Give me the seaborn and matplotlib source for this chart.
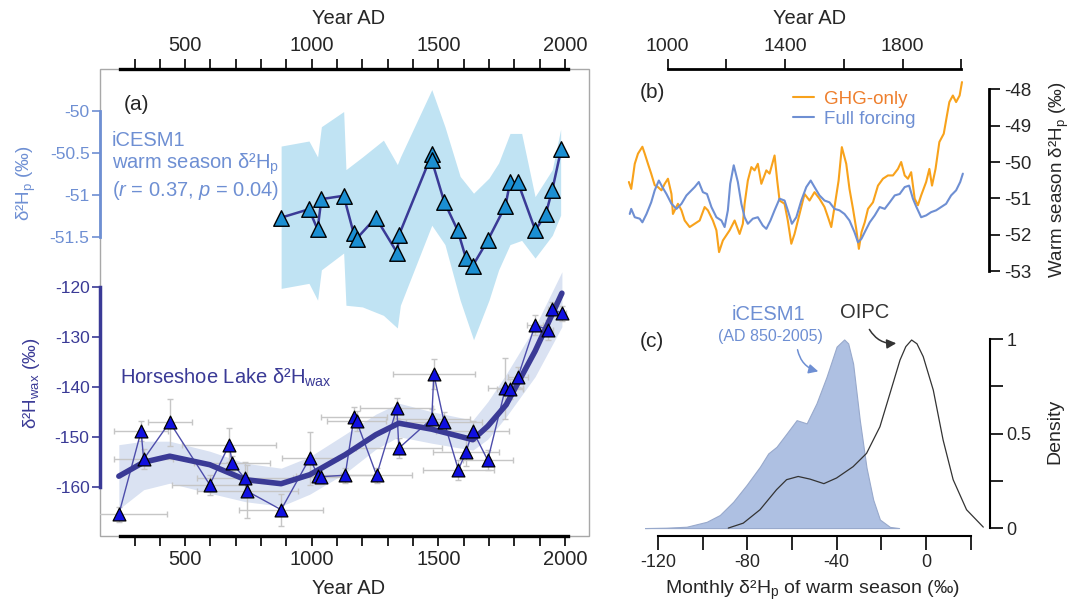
"""
Three-panel figure: Horseshoe Lake leaf-wax d2H vs iCESM1 warm-season d2Hp (a),
GHG-only vs full-forcing runs (b), and monthly d2Hp density, iCESM1 vs OIPC (c).
"""

import matplotlib
matplotlib.use("Agg")
import matplotlib.pyplot as plt
from matplotlib.patches import Rectangle
from matplotlib.ticker import FixedLocator
import seaborn as sns

# ---- panel (a), upper: iCESM1 warm-season d2Hp ----
sim_year = [879, 989, 1023, 1038, 1126, 1165, 1177, 1253, 1338, 1344, 1474, 1474,
            1523, 1576, 1609, 1636, 1695, 1765, 1783, 1814, 1883, 1924, 1950, 1985]
sim_d2hp = [-51.27, -51.17, -51.41, -51.05, -51.01, -51.45, -51.52, -51.27, -51.69, -51.48,
            -50.52, -50.59, -51.08, -51.42, -51.75, -51.84, -51.54, -51.13, -50.85, -50.85,
            -51.42, -51.23, -50.94, -50.46]
sim_band_year = [879, 989, 1023, 1038, 1126, 1135, 1200, 1283, 1338, 1350, 1474,
                 1526, 1586, 1639, 1700, 1738, 1783, 1829, 1882, 1950, 1983]
sim_band_hi = [-50.42, -50.36, -50.55, -50.19, -50.01, -50.70, -50.55, -50.35, -50.64, -50.55,
               -49.75, -50.19, -50.78, -50.98, -50.80, -50.62, -50.27, -50.27, -51.02, -50.70, -50.22]
sim_band_lo = [-52.11, -52.05, -52.25, -51.89, -51.69, -52.31, -52.33, -52.43, -52.58, -52.31,
               -51.36, -51.59, -52.25, -52.72, -52.25, -51.89, -51.59, -51.54, -51.75, -51.48, -51.24]

# ---- panel (a), lower: Horseshoe Lake d2Hwax ----
wax_year = [238, 326, 336, 439, 597, 674, 686, 735, 745, 879, 992, 1026, 1038, 1132, 1167,
            1177, 1256, 1336, 1344, 1474, 1482, 1523, 1579, 1609, 1636, 1695, 1765, 1783,
            1814, 1882, 1932, 1950, 1988]
wax_d2h = [-165.5, -148.9, -154.5, -147.1, -159.6, -151.6, -155.3, -158.3, -160.9, -164.6,
           -154.3, -157.9, -158.0, -157.7, -146.1, -146.9, -157.7, -144.3, -152.3, -146.4,
           -137.5, -147.1, -156.6, -153.1, -148.8, -154.7, -140.3, -140.4, -138.1, -127.7,
           -128.6, -124.5, -125.3]
wax_age_err = [190, 106, 117, 86, 150, 185, 150, 190, 200, 166, 110, 90, 90, 120, 129, 118,
               140, 144, 170, 150, 162, 150, 140, 129, 144, 98, 68, 50, 40, 30, 20, 15, 15]
wax_d2h_err = [1.5, 2, 2, 4.7, 2, 3.4, 1.5, 3.3, 5.3, 3.2, 5.3, 1.5, 1.5, 1.5, 2, 2, 1.5, 2,
               2, 2, 3, 2, 2, 2.7, 2, 2, 6.1, 2, 2, 2, 2, 1.5, 1.5]
fit_year = [238, 336, 439, 597, 738, 879, 992, 1132, 1253, 1344, 1474, 1636, 1695, 1768, 1882, 1988]
fit_d2h = [-157.9, -155.1, -153.9, -155.6, -158.6, -159.4, -157.6, -153.6, -149.6, -147.3,
           -148.5, -150.6, -147.9, -143.6, -132.9, -121.3]
fit_hi = [-151.6, -150.9, -150.9, -152.9, -155.3, -156.3, -154.0, -149.5, -145.5, -143.3,
          -145.0, -146.7, -143.0, -137.5, -128.0, -117.0]
fit_lo = [-164.5, -160.6, -159.3, -161.3, -163.0, -163.9, -161.5, -157.3, -152.5, -150.0,
          -151.3, -152.7, -150.5, -146.0, -138.0, -128.0]

# ---- panel (b): GHG-only vs full forcing ----
ghg_year = [868, 876, 888, 899, 914, 922, 933, 944, 956, 967, 979, 990, 1001, 1013, 1018,
            1035, 1047, 1058, 1075, 1092, 1109, 1126, 1137, 1154, 1166, 1175, 1188, 1211,
            1228, 1245, 1256, 1262, 1273, 1285, 1296, 1307, 1319, 1336, 1347, 1364, 1373,
            1381, 1398, 1409, 1421, 1432, 1449, 1466, 1483, 1500, 1517, 1534, 1546, 1557,
            1568, 1582, 1593, 1608, 1619, 1631, 1642, 1651, 1660, 1671, 1682, 1699, 1716,
            1733, 1750, 1767, 1784, 1795, 1807, 1818, 1829, 1841, 1852, 1863, 1880, 1891,
            1900, 1912, 1925, 1940, 1951, 1959, 1971, 1982, 1994, 2002]
ghg_d2hp = [-50.55, -50.74, -50.05, -49.77, -49.58, -49.77, -50.05, -50.32, -50.64, -50.69,
            -50.78, -50.60, -50.46, -50.88, -51.43, -51.15, -51.33, -51.61, -51.79, -51.70,
            -51.61, -51.24, -51.33, -51.61, -51.88, -52.48, -52.16, -51.88, -51.61, -51.98,
            -51.70, -51.15, -50.51, -50.14, -50.23, -50.05, -50.60, -50.23, -50.32, -49.82,
            -50.51, -51.06, -51.15, -51.61, -52.25, -51.98, -51.43, -50.88, -51.06, -50.83,
            -51.01, -51.24, -51.52, -51.79, -51.24, -50.51, -49.59, -50.05, -50.74, -51.29,
            -51.84, -52.39, -51.93, -51.66, -51.29, -51.11, -50.65, -50.46, -50.37, -50.37,
            -50.19, -50.00, -50.37, -50.46, -50.28, -51.01, -51.19, -50.92, -50.55, -50.19,
            -50.65, -50.19, -49.45, -49.22, -48.71, -48.35, -48.17, -48.35, -48.17, -47.80]
full_year = [871, 876, 888, 905, 914, 928, 944, 956, 970, 982, 996, 1013, 1030, 1047, 1064,
             1081, 1092, 1106, 1120, 1134, 1149, 1166, 1183, 1194, 1205, 1213, 1225, 1239,
             1251, 1262, 1273, 1290, 1307, 1324, 1336, 1350, 1364, 1381, 1398, 1409, 1423,
             1438, 1455, 1472, 1487, 1500, 1517, 1534, 1551, 1568, 1585, 1602, 1619, 1636,
             1648, 1660, 1671, 1688, 1705, 1722, 1739, 1756, 1773, 1790, 1807, 1822, 1835,
             1847, 1863, 1880, 1897, 1914, 1931, 1948, 1965, 1982, 1996, 2005]
full_d2hp = [-51.43, -51.29, -51.52, -51.56, -51.66, -51.43, -51.11, -50.78, -50.51, -50.69,
             -50.88, -51.15, -51.29, -51.15, -50.92, -50.78, -50.69, -50.55, -50.83, -50.88,
             -51.24, -51.52, -51.61, -51.79, -51.33, -50.60, -50.09, -50.55, -51.15, -51.52,
             -51.70, -51.56, -51.52, -51.75, -51.84, -51.61, -51.33, -51.01, -51.06, -51.33,
             -51.70, -51.52, -51.06, -50.69, -50.51, -50.69, -50.92, -51.06, -51.11, -51.29,
             -51.33, -51.43, -51.61, -51.93, -52.21, -52.11, -51.93, -51.66, -51.47, -51.24,
             -51.29, -51.11, -50.92, -50.88, -50.69, -50.65, -51.01, -51.24, -51.52, -51.47,
             -51.38, -51.33, -51.24, -51.15, -50.92, -50.78, -50.55, -50.32]

# ---- panel (c): monthly warm-season d2Hp density ----
cesm_x = [-125.9, -116.2, -107.2, -98.2, -92.3, -86.3, -80.3, -74.3, -70.6, -66.9, -62.4,
          -57.9, -53.4, -49.0, -44.5, -40.0, -36.6, -34.8, -32.6, -29.6, -26.6, -23.6,
          -20.6, -16.1, -12.0]
cesm_density = [0, 0.002, 0.007, 0.033, 0.069, 0.139, 0.228, 0.325, 0.395, 0.43, 0.50,
                0.571, 0.554, 0.66, 0.80, 0.96, 0.998, 0.977, 0.87, 0.57, 0.32, 0.15,
                0.045, 0.006, 0]
oipc_x = [-88.5, -81.8, -74.3, -66.9, -62.4, -57.2, -51.9, -45.7, -40.0, -32.6, -26.6,
          -20.6, -16.1, -11.6, -9.0, -6.4, -4.0, -1.2, 3.3, 7.7, 12.2, 18.2, 25.7]
oipc_density = [0, 0.026, 0.097, 0.203, 0.256, 0.273, 0.259, 0.235, 0.265, 0.325, 0.395,
                0.536, 0.712, 0.889, 0.96, 0.995, 0.975, 0.907, 0.73, 0.466, 0.256, 0.097, 0.005]

# colours
LIGHT = '#6e8fd3'
DARK = '#3a3a96'
SIM_BAND = '#c0e3f3'
SIM_TRI = '#1b8fd2'
WAX_TRI = '#1010e0'
WAX_BAND = '#dae2f2'
ERR = '#c6c6c6'
ORANGE = '#f8a21b'
CESM_FILL = '#aec0e2'

W, H = 1073, 602

sns.set_theme(style='white')
plt.rcParams['font.family'] = ['Liberation Sans', 'DejaVu Sans']
plt.rcParams['mathtext.fontset'] = 'custom'
plt.rcParams['mathtext.rm'] = 'Liberation Sans'
plt.rcParams['mathtext.it'] = 'Liberation Sans:italic'
plt.rcParams['axes.unicode_minus'] = False

D2HP = 'δ²H$_\\mathregular{p}$'
D2HWAX = 'δ²H$_\\mathregular{wax}$'


def box(left, top, right, bottom):
    """pixel box -> figure fraction rect"""
    return [left / W, 1 - bottom / H, (right - left) / W, (bottom - top) / H]


def ftext(x, y, s, **kw):
    fig.text(x / W, 1 - y / H, s, **kw)


def farrow(x0, y0, x1, y1, color):
    fig.add_artist(plt.Annotation('', xy=(x1 / W, 1 - y1 / H), xytext=(x0 / W, 1 - y0 / H),
                                  xycoords='figure fraction', textcoords='figure fraction',
                                  arrowprops=dict(arrowstyle='-|>', color=color, lw=1.1,
                                                  mutation_scale=14,
                                                  connectionstyle='arc3,rad=0.35')))


fig = plt.figure(figsize=(W / 100, H / 100), dpi=100)

# ================= panel (a) =================
ax = fig.add_axes(box(100, 69, 589, 536))
ax_up = ax.twinx()
ax.set_zorder(ax_up.get_zorder() + 1)
ax.patch.set_visible(False)

ax.set_xlim(163.6, 2095)
ax.set_ylim(-169.86, -76.46)
ax_up.set_ylim(-55.05, -49.505)

# iCESM1 spread and series
ax_up.fill_between(sim_band_year, sim_band_lo, sim_band_hi, color=SIM_BAND, lw=0, zorder=1)
sns.lineplot(x=sim_year, y=sim_d2hp, estimator=None, sort=False, color=DARK, lw=1.8,
             ax=ax_up, zorder=2)
sns.scatterplot(x=sim_year, y=sim_d2hp, marker='^', s=125, color=SIM_TRI, edgecolor='black',
                linewidth=1, ax=ax_up, zorder=3)

# Horseshoe Lake
ax.fill_between(fit_year, fit_lo, fit_hi, color=WAX_BAND, lw=0, zorder=1)
ax.errorbar(wax_year, wax_d2h, xerr=wax_age_err, yerr=wax_d2h_err, fmt='none',
            ecolor=ERR, elinewidth=1, capsize=2, zorder=1.5)
sns.lineplot(x=wax_year, y=wax_d2h, estimator=None, sort=False, color='#4d4dab', lw=1,
             ax=ax, zorder=2)
sns.lineplot(x=fit_year, y=fit_d2h, estimator=None, sort=False, color=DARK, lw=4,
             ax=ax, zorder=3)
sns.scatterplot(x=wax_year, y=wax_d2h, marker='^', s=85, color=WAX_TRI, edgecolor='black',
                linewidth=0.9, ax=ax, zorder=4)

# frame and spines
ax_up.add_patch(Rectangle((0, 0), 1, 1, transform=ax_up.transAxes, fill=False,
                          ec='#a8a8a8', lw=1, zorder=0, clip_on=False))
for s in ['top', 'bottom', 'right']:
    ax_up.spines[s].set_visible(False)
ax_up.spines['left'].set_bounds(-51.5, -50)
ax_up.spines['left'].set_color(LIGHT)
ax_up.spines['left'].set_linewidth(2)
ax_up.yaxis.tick_left()
ax_up.yaxis.set_major_locator(FixedLocator([-50, -50.5, -51, -51.5]))
ax_up.set_yticklabels(['-50', '-50.5', '-51', '-51.5'])
ax_up.tick_params(axis='y', left=True, right=False, labelleft=True, labelright=False,
                  direction='out', length=6, width=1.2, color=LIGHT, labelcolor=LIGHT,
                  labelsize=12.5, pad=1.5)
ax_up.set_ylabel('')

ax.spines['right'].set_visible(False)
ax.spines['left'].set_bounds(-160, -120)
ax.spines['left'].set_color(DARK)
ax.spines['left'].set_linewidth(2.5)
for s in ['top', 'bottom']:
    ax.spines[s].set_bounds(244, 2012)
    ax.spines[s].set_color('black')
    ax.spines[s].set_linewidth(2.4)
ax.yaxis.set_major_locator(FixedLocator([-120, -130, -140, -150, -160]))
ax.set_yticklabels(['-120', '-130', '-140', '-150', '-160'])
ax.tick_params(axis='y', direction='out', length=6, width=1.2, color=DARK,
               labelcolor=DARK, labelsize=12.5, pad=1.5)
ax.xaxis.set_major_locator(FixedLocator([500, 1000, 1500, 2000]))
ax.xaxis.set_minor_locator(FixedLocator(list(range(300, 2001, 100))))
ax.tick_params(axis='x', which='both', bottom=True, top=True, labelbottom=True,
               labeltop=True, direction='out', length=7, width=1.2, color='black',
               labelsize=14.5, pad=3)
ax.set_xlabel('')
ax.set_ylabel('')

ftext(349, 19, 'Year AD', ha='center', va='center', fontsize=14.5)
ftext(349, 589, 'Year AD', ha='center', va='center', fontsize=14.5)
ftext(26, 183, D2HP + ' (‰)', rotation=90, ha='center', va='center', color=LIGHT,
      fontsize=13.5)
ftext(31, 383, D2HWAX + ' (‰)', rotation=90, ha='center', va='center', color=DARK,
      fontsize=13.5)
ftext(124, 105, '(a)', ha='left', va='center', fontsize=15)
ftext(112, 140, 'iCESM1', ha='left', va='center', color=LIGHT, fontsize=14.5)
ftext(112, 164, 'warm season ' + D2HP, ha='left', va='center', color=LIGHT, fontsize=14.5)
ftext(112, 190, '($\\mathit{r}$ = 0.37, $\\mathit{p}$ = 0.04)', ha='left', va='center',
      color=LIGHT, fontsize=14.5)
ftext(120, 378, 'Horseshoe Lake ' + D2HWAX, ha='left', va='center', color=DARK,
      fontsize=14.5)

# ================= panel (b) =================
ax_b = fig.add_axes(box(623, 69, 989, 271))
sns.lineplot(x=ghg_year, y=ghg_d2hp, estimator=None, sort=False, color=ORANGE, lw=1.5,
             ax=ax_b, label='GHG-only')
sns.lineplot(x=full_year, y=full_d2hp, estimator=None, sort=False, color=LIGHT, lw=1.5,
             ax=ax_b, label='Full forcing')
ax_b.set_xlim(848, 2094)
ax_b.set_ylim(-53, -47.44)
for s in ['left', 'bottom']:
    ax_b.spines[s].set_visible(False)
ax_b.spines['top'].set_bounds(1000, 2000)
ax_b.spines['right'].set_bounds(-53, -48)
for s in ['top', 'right']:
    ax_b.spines[s].set_color('black')
    ax_b.spines[s].set_linewidth(2)
ax_b.xaxis.tick_top()
ax_b.xaxis.set_major_locator(FixedLocator([1000, 1400, 1800]))
ax_b.xaxis.set_minor_locator(FixedLocator([1200, 1600, 2000]))
ax_b.tick_params(axis='x', which='both', top=True, bottom=False, labeltop=True,
                 labelbottom=False, direction='out', length=7, width=1.2, color='black',
                 labelsize=14, pad=3)
ax_b.yaxis.tick_right()
ax_b.yaxis.set_major_locator(FixedLocator([-48, -49, -50, -51, -52, -53]))
ax_b.set_yticklabels(['-48', '-49', '-50', '-51', '-52', '-53'])
ax_b.tick_params(axis='y', right=True, left=False, labelright=True, labelleft=False,
                 direction='out', length=8, width=1.2, color='black', labelsize=13.5, pad=3)
ax_b.set_xlabel('')
ax_b.set_ylabel('')
ax_b.legend(loc='upper left', bbox_to_anchor=(0.4645, 0.894), frameon=False,
            fontsize=13.5, handlelength=1.1, handletextpad=0.55, labelspacing=0.18,
            borderpad=0, borderaxespad=0, labelcolor=['#ee7f2d', LIGHT])
ftext(810, 19, 'Year AD', ha='center', va='center', fontsize=14.5)
ftext(640, 92, '(b)', ha='left', va='center', fontsize=15)
ftext(1059, 180, 'Warm season ' + D2HP + ' (‰)', rotation=90, ha='center', va='center',
      fontsize=13.5)

# ================= panel (c) =================
ax_c = fig.add_axes(box(645, 330, 990, 536))
ax_c.fill_between(cesm_x, cesm_density, 0, color=CESM_FILL, ec='#98a9cc', lw=0.8)
sns.lineplot(x=oipc_x, y=oipc_density, estimator=None, sort=False, color='#333333',
             lw=0.9, ax=ax_c)
ax_c.set_xlim(-125.8, 28.7)
ax_c.set_ylim(-0.042, 1.048)
for s in ['left', 'top']:
    ax_c.spines[s].set_visible(False)
ax_c.spines['bottom'].set_bounds(-120, 20)
ax_c.spines['right'].set_bounds(0, 1)
for s in ['bottom', 'right']:
    ax_c.spines[s].set_color('black')
    ax_c.spines[s].set_linewidth(1.5)
ax_c.xaxis.set_major_locator(FixedLocator([-120, -80, -40, 0]))
ax_c.xaxis.set_minor_locator(FixedLocator([-100, -60, -20, 20]))
ax_c.tick_params(axis='x', which='both', bottom=True, direction='out', length=10,
                 width=1.2, color='black', labelsize=13, pad=3)
ax_c.yaxis.tick_right()
ax_c.yaxis.set_major_locator(FixedLocator([0, 0.25, 0.5, 0.75, 1]))
ax_c.set_yticklabels(['0', '', '0.5', '', '1'])
ax_c.tick_params(axis='y', right=True, left=False, labelright=True, labelleft=False,
                 direction='out', length=9, width=1.2, color='black', labelsize=13, pad=3)
ax_c.set_xlabel('')
ax_c.set_ylabel('')

ftext(640, 342, '(c)', ha='left', va='center', fontsize=15)
ftext(768, 315, 'iCESM1', ha='center', va='center', color=LIGHT, fontsize=14.5)
ftext(770, 337, '(AD 850-2005)', ha='center', va='center', color=LIGHT, fontsize=11.5)
ftext(865, 312, 'OIPC', ha='center', va='center', color='#333333', fontsize=14.5)
ftext(813, 590, 'Monthly ' + D2HP + ' of warm season (‰)', ha='center', va='center',
      fontsize=14)
ftext(1055, 431, 'Density', rotation=90, ha='center', va='center', fontsize=14)

farrow(797, 347, 821, 372, LIGHT)
farrow(868, 327, 899, 343, '#333333')

fig.savefig('out.png', dpi=100, facecolor='white')
